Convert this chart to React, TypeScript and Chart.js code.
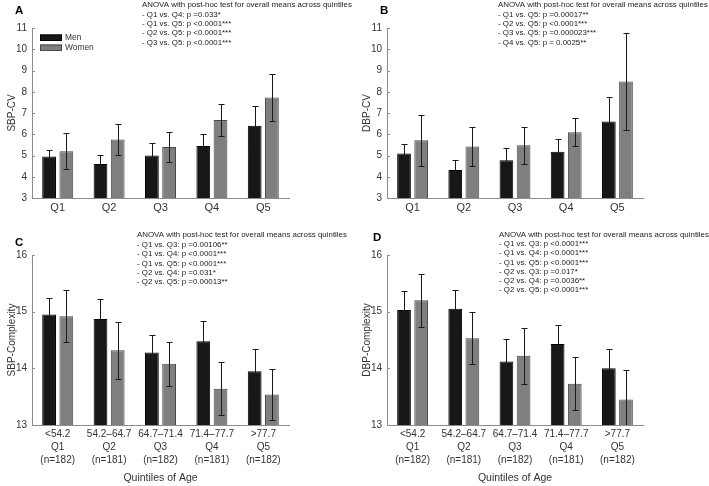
import React, { useEffect, useRef } from 'react';
import { Chart, registerables } from 'chart.js';

Chart.register(...registerables);

const FONT = '"Liberation Sans", Arial, Helvetica, sans-serif';

// ---- categories / tick labels ----
const quintiles = ['Q1', 'Q2', 'Q3', 'Q4', 'Q5'];
const ageRanges = ['<54.2', '54.2–64.7', '64.7–71.4', '71.4–77.7', '>77.7'];
const groupSizes = ['(n=182)', '(n=181)', '(n=182)', '(n=181)', '(n=182)'];
const seriesNames = ['Men', 'Women'];

// ---- A: SBP-CV ----
const sbpCvMen = [4.95, 4.6, 5.0, 5.45, 6.4];
const sbpCvMenErr = [0.3, 0.42, 0.58, 0.57, 0.93];
const sbpCvWomen = [5.2, 5.75, 5.4, 6.67, 7.73];
const sbpCvWomenErr = [0.84, 0.73, 0.7, 0.73, 1.1];

// ---- B: DBP-CV ----
const dbpCvMen = [5.1, 4.32, 4.78, 5.18, 6.6];
const dbpCvMenErr = [0.45, 0.45, 0.57, 0.59, 1.15];
const dbpCvWomen = [5.72, 5.42, 5.48, 6.1, 8.48];
const dbpCvWomenErr = [1.2, 0.9, 0.86, 0.65, 2.27];

// ---- C: SBP-Complexity ----
const sbpCxMen = [14.95, 14.87, 14.28, 14.48, 13.95];
const sbpCxMenErr = [0.29, 0.35, 0.31, 0.36, 0.4];
const sbpCxWomen = [14.92, 14.32, 14.08, 13.64, 13.54];
const sbpCxWomenErr = [0.46, 0.5, 0.39, 0.47, 0.45];

// ---- D: DBP-Complexity ----
const dbpCxMen = [15.03, 15.05, 14.12, 14.43, 14.0];
const dbpCxMenErr = [0.33, 0.33, 0.4, 0.34, 0.35];
const dbpCxWomen = [15.2, 14.53, 14.22, 13.73, 13.45];
const dbpCxWomenErr = [0.47, 0.46, 0.49, 0.47, 0.52];

// ---- annotation texts ----
const anovaTitle = 'ANOVA with post-hoc test for overall means across quintiles';
const sbpCvTests = [
  '- Q1 vs. Q4: p =0.033*',
  '- Q1 vs. Q5: p <0.0001***',
  '- Q2 vs. Q5: p <0.0001***',
  '- Q3 vs. Q5: p <0.0001***',
];
const dbpCvTests = [
  '- Q1 vs. Q5: p =0.00017**',
  '- Q2 vs. Q5: p <0.0001***',
  '- Q3 vs. Q5: p =0.000023***',
  '- Q4 vs. Q5: p = 0.0025**',
];
const sbpCxTests = [
  '- Q1 vs. Q3: p =0.00106**',
  '- Q1 vs. Q4: p <0.0001***',
  '- Q1 vs. Q5: p <0.0001***',
  '- Q2 vs. Q4: p =0.031*',
  '- Q2 vs. Q5: p =0.00013**',
];
const dbpCxTests = [
  '- Q1 vs. Q3: p <0.0001***',
  '- Q1 vs. Q4: p <0.0001***',
  '- Q1 vs. Q5: p <0.0001***',
  '- Q2 vs. Q3: p =0.017*',
  '- Q2 vs. Q4: p =0.0036**',
  '- Q2 vs. Q5: p <0.0001***',
];

const ageLabels = quintiles.map((q, i) => [ageRanges[i], q, groupSizes[i]]);

const MEN_COLOR = '#171717';
const WOMEN_COLOR = '#7f7f7f';
const AXIS_COLOR = '#8c8c8c';
const TEXT_COLOR = '#333333';

const errorBarPlugin = {
  id: 'errorBars',
  afterDatasetsDraw(chart: any) {
    const { ctx, chartArea } = chart;
    const ys = chart.scales.y;
    ctx.save();
    ctx.beginPath();
    ctx.rect(chartArea.left, chartArea.top - 2, chartArea.right - chartArea.left, chartArea.bottom - chartArea.top + 2);
    ctx.clip();
    ctx.strokeStyle = '#1a1a1a';
    ctx.lineWidth = 1;
    chart.data.datasets.forEach((ds: any, i: number) => {
      const meta = chart.getDatasetMeta(i);
      meta.data.forEach((bar: any, j: number) => {
        const v = ds.data[j];
        const e = ds.errors[j];
        const x = Math.round(bar.x) + 0.5;
        const yt = Math.round(ys.getPixelForValue(v + e)) + 0.5;
        const yb = Math.round(ys.getPixelForValue(v - e)) + 0.5;
        ctx.beginPath();
        ctx.moveTo(x, yt);
        ctx.lineTo(x, yb);
        ctx.moveTo(x - 3, yt);
        ctx.lineTo(x + 3, yt);
        ctx.moveTo(x - 3, yb);
        ctx.lineTo(x + 3, yb);
        ctx.stroke();
      });
    });
    ctx.restore();
  },
};

type PanelProps = {
  left: number;
  top: number;
  width: number;
  height: number;
  letter: string;
  letterX: number;
  letterY: number;
  yTitle: string;
  yMin: number;
  yMax: number;
  labels: (string | string[])[];
  men: number[];
  menErr: number[];
  women: number[];
  womenErr: number[];
  tests: string[];
  noteX: number;
  noteY: number;
  noteStep: number;
  showLegend: boolean;
  xTitle?: string;
  padTop: number;
  xHeight: number;
  tickFontSize: number;
};

function Panel(p: PanelProps) {
  const ref = useRef<HTMLCanvasElement | null>(null);

  useEffect(() => {
    if (!ref.current) return;

    const decorPlugin = {
      id: 'decor' + p.letter,
      afterDraw(chart: any) {
        const { ctx, chartArea } = chart;
        const ys = chart.scales.y;
        ctx.save();
        // inward y ticks
        ctx.strokeStyle = AXIS_COLOR;
        ctx.lineWidth = 1;
        ys.ticks.forEach((t: any) => {
          const py = Math.round(ys.getPixelForValue(t.value)) + 0.5;
          ctx.beginPath();
          ctx.moveTo(chartArea.left, py);
          ctx.lineTo(chartArea.left + 3, py);
          ctx.stroke();
        });
        // panel letter
        ctx.fillStyle = '#000';
        ctx.font = `bold 11.5px ${FONT}`;
        ctx.textBaseline = 'middle';
        ctx.textAlign = 'left';
        ctx.fillText(p.letter, p.letterX, p.letterY);
        // annotation
        ctx.fillStyle = '#222';
        ctx.font = `7.9px ${FONT}`;
        [anovaTitle, ...p.tests].forEach((line, i) => {
          ctx.fillText(line, p.noteX, p.noteY + i * p.noteStep);
        });
        // legend
        if (p.showLegend) {
          const colors = [MEN_COLOR, WOMEN_COLOR];
          const borders = ['#000', '#4a4a4a'];
          seriesNames.forEach((name, i) => {
            const by = 34.5 + i * 10;
            ctx.fillStyle = colors[i];
            ctx.fillRect(40, by, 22, 6.5);
            ctx.strokeStyle = borders[i];
            ctx.strokeRect(40.5, by + 0.5, 21, 5.5);
            ctx.fillStyle = TEXT_COLOR;
            ctx.font = `8.4px ${FONT}`;
            ctx.fillText(name, 65, by + 3.5);
          });
        }
        ctx.restore();
      },
    };

    const chart = new Chart(ref.current, {
      type: 'bar',
      data: {
        labels: p.labels as any,
        datasets: [
          {
            label: seriesNames[0],
            data: p.men,
            errors: p.menErr,
            backgroundColor: MEN_COLOR,
            borderColor: '#000',
            borderWidth: 1,
            categoryPercentage: 0.67,
            barPercentage: 0.8,
          } as any,
          {
            label: seriesNames[1],
            data: p.women,
            errors: p.womenErr,
            backgroundColor: WOMEN_COLOR,
            borderColor: '#4a4a4a',
            borderWidth: 1,
            categoryPercentage: 0.67,
            barPercentage: 0.8,
          } as any,
        ],
      },
      options: {
        animation: false,
        responsive: false,
        maintainAspectRatio: false,
        devicePixelRatio: 1,
        layout: { padding: { left: 0, right: 66, top: p.padTop, bottom: 0 } },
        plugins: { legend: { display: false }, tooltip: { enabled: false } },
        scales: {
          x: {
            grid: { display: false, drawTicks: false },
            border: { display: true, color: AXIS_COLOR, width: 1 },
            ticks: {
              padding: 3,
              color: TEXT_COLOR,
              autoSkip: false,
              maxRotation: 0,
              font: { family: FONT, size: p.tickFontSize, lineHeight: 1.28 },
            },
            title: p.xTitle
              ? {
                  display: true,
                  text: p.xTitle,
                  color: TEXT_COLOR,
                  font: { family: FONT, size: 10.5, lineHeight: 1.2 },
                  padding: { top: 0, bottom: 2 },
                }
              : { display: false },
            afterFit: (s: any) => {
              s.height = p.xHeight;
            },
          },
          y: {
            min: p.yMin,
            max: p.yMax,
            grid: { display: false, drawTicks: false },
            border: { display: true, color: AXIS_COLOR, width: 1 },
            ticks: {
              stepSize: 1,
              padding: 5,
              color: TEXT_COLOR,
              font: { family: FONT, size: 10 },
            },
            title: {
              display: true,
              text: p.yTitle,
              color: TEXT_COLOR,
              font: { family: FONT, size: 10, lineHeight: 1.2 },
              padding: { top: 6, bottom: 0 },
            },
            afterFit: (s: any) => {
              s.width = 32;
            },
          },
        },
      } as any,
      plugins: [errorBarPlugin, decorPlugin],
    });

    return () => chart.destroy();
  }, []);

  return (
    <canvas
      ref={ref}
      width={p.width}
      height={p.height}
      style={{ position: 'absolute', left: p.left, top: p.top, width: p.width, height: p.height }}
    />
  );
}

export default function App() {
  return (
    <div style={{ position: 'absolute', left: 0, top: 0, width: 709, height: 486, background: '#fff', overflow: 'hidden' }}>
      <Panel
        left={0} top={0} width={355} height={226}
        letter="A" letterX={15} letterY={11}
        yTitle="SBP-CV" yMin={3} yMax={11}
        labels={quintiles}
        men={sbpCvMen} menErr={sbpCvMenErr} women={sbpCvWomen} womenErr={sbpCvWomenErr}
        tests={sbpCvTests} noteX={142} noteY={5} noteStep={9.4}
        showLegend={true}
        padTop={28} xHeight={28} tickFontSize={11}
      />
      <Panel
        left={355} top={0} width={354} height={226}
        letter="B" letterX={25} letterY={11}
        yTitle="DBP-CV" yMin={3} yMax={11}
        labels={quintiles}
        men={dbpCvMen} menErr={dbpCvMenErr} women={dbpCvWomen} womenErr={dbpCvWomenErr}
        tests={dbpCvTests} noteX={143} noteY={5} noteStep={9.4}
        showLegend={false}
        padTop={28} xHeight={28} tickFontSize={11}
      />
      <Panel
        left={0} top={226} width={355} height={260}
        letter="C" letterX={15} letterY={16.5}
        yTitle="SBP-Complexity" yMin={13} yMax={16}
        labels={ageLabels}
        men={sbpCxMen} menErr={sbpCxMenErr} women={sbpCxWomen} womenErr={sbpCxWomenErr}
        tests={sbpCxTests} noteX={137} noteY={9} noteStep={9.45}
        showLegend={false} xTitle="Quintiles of Age"
        padTop={29} xHeight={61} tickFontSize={10}
      />
      <Panel
        left={355} top={226} width={354} height={260}
        letter="D" letterX={18} letterY={11.5}
        yTitle="DBP-Complexity" yMin={13} yMax={16}
        labels={ageLabels}
        men={dbpCxMen} menErr={dbpCxMenErr} women={dbpCxWomen} womenErr={dbpCxWomenErr}
        tests={dbpCxTests} noteX={144} noteY={8.8} noteStep={9.2}
        showLegend={false} xTitle="Quintiles of Age"
        padTop={29} xHeight={61} tickFontSize={10}
      />
    </div>
  );
}
